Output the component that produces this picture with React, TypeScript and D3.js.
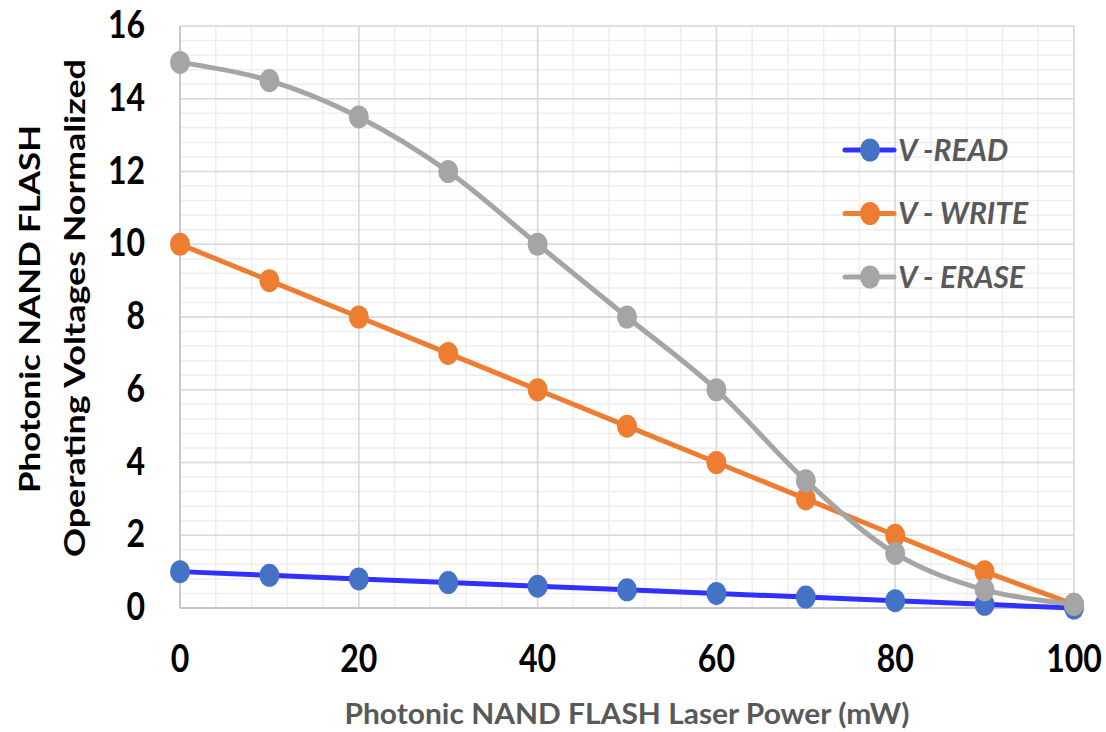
import React from "react";
import * as d3 from "d3";

const powers = [0, 10, 20, 30, 40, 50, 60, 70, 80, 90, 100];
const vRead = [1, 0.9, 0.8, 0.7, 0.6, 0.5, 0.4, 0.3, 0.2, 0.1, 0];
const vWrite = [10, 9, 8, 7, 6, 5, 4, 3, 2, 1, 0.1];
const vErase = [15, 14.5, 13.5, 12, 10, 8, 6, 3.5, 1.5, 0.5, 0.1];
const seriesNames = ["V -READ", "V - WRITE", "V - ERASE"];
const yTicks = [0, 2, 4, 6, 8, 10, 12, 14, 16];
const xTicks = [0, 20, 40, 60, 80, 100];
const xTitle = "Photonic NAND FLASH Laser Power (mW)";
const yTitle1 = "Photonic NAND FLASH";
const yTitle2 = "Operating Voltages Normalized";

const W = 1106;
const H = 732;
const FONT = "Lato, 'Open Sans', sans-serif";
const SY = 1.17;

export default function App() {
  const x = d3.scaleLinear().domain([0, 100]).range([180, 1074]);
  const y = d3.scaleLinear().domain([0, 16]).range([608, 26]);

  const minorX = d3.range(0, 100.001, 4);
  const minorY = d3.range(0, 16.001, 0.4);

  const series = [
    { name: seriesNames[0], values: vRead, line: "#3030ff", marker: "#4472c4", smooth: false },
    { name: seriesNames[1], values: vWrite, line: "#ed7d31", marker: "#ed7d31", smooth: false },
    { name: seriesNames[2], values: vErase, line: "#a5a5a5", marker: "#a5a5a5", smooth: true },
  ];

  const mkLine = (smooth: boolean) =>
    d3
      .line<number>()
      .x((_, i) => x(powers[i]))
      .y((d) => y(d))
      .curve(smooth ? d3.curveCatmullRom.alpha(0) : d3.curveLinear);

  return (
    <svg
      width={W}
      height={H}
      style={{ position: "absolute", left: 0, top: 0, background: "#fff" }}
      fontFamily={FONT}
    >
      {/* minor grid */}
      {minorX.map((v, i) => (
        <line key={"mx" + i} x1={x(v)} x2={x(v)} y1={y(16)} y2={y(0)} stroke="#eeeeee" strokeWidth={1.5} />
      ))}
      {minorY.map((v, i) => (
        <line key={"my" + i} x1={x(0)} x2={x(100)} y1={y(v)} y2={y(v)} stroke="#eeeeee" strokeWidth={1.5} />
      ))}
      {/* major grid */}
      {xTicks.map((v) => (
        <line key={"Mx" + v} x1={x(v)} x2={x(v)} y1={y(16)} y2={y(0)} stroke="#d9d9d9" strokeWidth={1.5} />
      ))}
      {yTicks.map((v) => (
        <line key={"My" + v} x1={x(0)} x2={x(100)} y1={y(v)} y2={y(v)} stroke="#d9d9d9" strokeWidth={1.5} />
      ))}
      {/* axes */}
      <line x1={x(0)} x2={x(0)} y1={y(16)} y2={y(0)} stroke="#bfbfbf" strokeWidth={1.5} />
      <line x1={x(0)} x2={x(100)} y1={y(0)} y2={y(0)} stroke="#bfbfbf" strokeWidth={1.5} />

      {/* y tick labels */}
      {yTicks.map((v) => (
        <text
          key={"yt" + v}
          transform={`translate(145,${y(v) + 12}) scale(1,${SY})`}
          textAnchor="end"
          fontSize={32}
          fontWeight="bold"
          fill="#000"
        >
          {v}
        </text>
      ))}
      {/* x tick labels */}
      {xTicks.map((v) => (
        <text
          key={"xt" + v}
          transform={`translate(${x(v)},672) scale(1,${SY})`}
          textAnchor="middle"
          fontSize={32}
          fontWeight="bold"
          fill="#000"
        >
          {v}
        </text>
      ))}

      {/* series */}
      {series.map((s) => (
        <g key={s.name}>
          <path d={mkLine(s.smooth)(s.values) || ""} fill="none" stroke={s.line} strokeWidth={5} strokeLinejoin="round" strokeLinecap="round" />
          {s.values.map((v, i) => (
            <ellipse key={i} cx={x(powers[i])} cy={y(v)} rx={10} ry={11.5} fill={s.marker} />
          ))}
        </g>
      ))}

      {/* legend */}
      {series.map((s, i) => {
        const cy = 150 + i * 63.5;
        return (
          <g key={"lg" + i}>
            <line x1={845} x2={894} y1={cy} y2={cy} stroke={s.line} strokeWidth={5} strokeLinecap="round" />
            <ellipse cx={870} cy={cy} rx={10} ry={11.5} fill={s.marker} />
            <text
              transform={`translate(898,${cy + 10.5}) scale(1,1.04)`}
              fontSize={30}
              fontWeight="bold"
              fontStyle="italic"
              fill="#595959"
            >
              {s.name}
            </text>
          </g>
        );
      })}

      {/* axis titles */}
      <text
        transform="translate(627,724) scale(1,1.1)"
        textAnchor="middle"
        fontSize={26}
        fontWeight="bold"
        fill="#595959"
        textLength={565}
        lengthAdjust="spacingAndGlyphs"
      >
        {xTitle}
      </text>
      <text
        transform="translate(40,309) rotate(-90)"
        textAnchor="middle"
        fontSize={28}
        fontWeight="bold"
        fill="#000"
        textLength={368}
        lengthAdjust="spacingAndGlyphs"
      >
        {yTitle1}
      </text>
      <text
        transform="translate(85,308) rotate(-90)"
        textAnchor="middle"
        fontSize={28}
        fontWeight="bold"
        fill="#000"
        textLength={498}
        lengthAdjust="spacingAndGlyphs"
      >
        {yTitle2}
      </text>
    </svg>
  );
}
